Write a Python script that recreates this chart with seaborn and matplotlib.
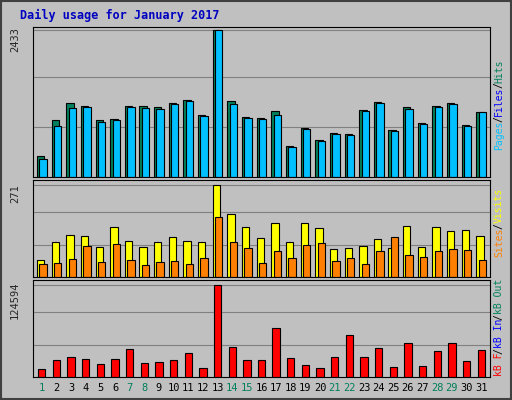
import matplotlib
matplotlib.use("Agg")
import matplotlib.pyplot as plt
import seaborn as sns
import numpy as np

days = list(range(1, 32))
hits = [340,940,1225,1175,940,955,1175,1175,1160,1225,1275,1025,2433,1260,990,975,1090,505,810,605,725,710,1110,1245,775,1160,890,1175,1225,860,1075]
files = [300,840,1140,1160,905,940,1160,1140,1125,1210,1260,1010,2433,1210,975,960,1025,490,795,590,710,695,1095,1225,760,1125,875,1160,1210,845,1075]
visits = [51,102,123,120,87,147,105,87,102,117,105,102,271,186,147,114,159,102,159,144,81,84,90,111,84,150,87,147,135,138,120]
sites = [39,42,54,90,45,96,51,36,45,48,39,57,177,102,84,42,75,57,93,99,48,57,39,75,117,66,60,75,81,78,51]
kbytes = [11000,23500,27700,24900,18000,24900,37400,19400,20800,23500,31800,12500,124594,40100,23500,23500,66400,26300,16600,12500,27700,56700,27700,38700,13800,45700,15200,34600,45700,22100,36000]
weekend = {1,7,8,14,15,21,22,28,29}

sns.set_style("white")
W, H = 512, 400
fig = plt.figure(figsize=(5.12, 4.0), dpi=100, facecolor="#c0c0c0")
fig.patches.append(plt.Rectangle((0.002, 0.002), 0.996, 0.996, transform=fig.transFigure,
                                 fill=False, edgecolor="#404040", lw=1.5))

def mk(y0, y1):
    ax = fig.add_axes([33/W, 1 - y1/H, (490-33)/W, (y1-y0)/H])
    ax.set_facecolor("#c0c0c0")
    for s in ax.spines.values():
        s.set_color("black")
    return ax

def draw(ax, vals, off, color, w):
    x = np.array(days) + off
    sns.barplot(x=x, y=vals, native_scale=True, width=w, color=color,
                edgecolor="black", linewidth=0.8, saturation=1, ax=ax)

ax1 = mk(27, 177)
top1 = 2433 / 0.98
ax1.set_ylim(0, top1)
for f in [1/3, 2/3, 0.98]:
    ax1.axhline(top1*f, color="#808080", lw=0.8, zorder=0)
draw(ax1, hits, -0.08, "#00805c", 0.5)
draw(ax1, files, 0.08, "#00c0ff", 0.5)

ax2 = mk(180, 277)
top2 = 271 / 0.95
ax2.set_ylim(0, top2)
for f in [1/3, 2/3, 0.95]:
    ax2.axhline(top2*f, color="#808080", lw=0.8, zorder=0)
draw(ax2, visits, -0.08, "#ffff00", 0.5)
draw(ax2, sites, 0.08, "#ff8000", 0.5)

ax3 = mk(280, 377)
top3 = 124594 / 0.95
ax3.set_ylim(0, top3)
for f in [1/3, 2/3, 0.95]:
    ax3.axhline(top3*f, color="#808080", lw=0.8, zorder=0)
draw(ax3, kbytes, 0, "#ff0000", 0.5)

for ax in (ax1, ax2, ax3):
    ax.set_xlim(0.4, 31.6)
    ax.set_xlabel(""); ax.set_ylabel("")
    ax.set_xticks([]); ax.set_yticks([])

mono = "DejaVu Sans Mono"
fig.text(20/W, 1-15/H, "Daily usage for January 2017", color="#0000c0",
         fontsize=8.5, fontweight="bold", family=mono, va="center")
for y, t in [(40, "2433"), (194, "271"), (300, "124594")]:
    fig.text(15/W, 1-y/H, t, rotation=90, fontsize=7.5, family=mono, va="center", ha="center")

for d in days:
    xf = (33 + (d - 0.4) / 31.2 * (490 - 33)) / W
    fig.text(xf, 1-388/H, str(d), color="#00805c" if d in weekend else "black",
             fontsize=7.5, family=mono, ha="center", va="center")

CW = 5.6
def rlabel(ybot, parts):
    y = ybot
    for t, c in parts:
        fig.text(499/W, 1-y/H, t, rotation=90, color=c, fontsize=7,
                 family=mono, ha="center", va="bottom")
        y -= len(t) * CW
rlabel(150, [("Pages", "#00c0ff"), ("/", "black"), ("Files", "#0000ff"), ("/", "black"), ("Hits", "#00805c")])
rlabel(257, [("Sites", "#ff8000"), ("/", "black"), ("Visits", "#ffff00")])
rlabel(376, [("kB F", "#ff0000"), ("/", "black"), ("kB In", "#0000ff"), ("/", "black"), ("kB Out", "#00805c")])

fig.savefig("out.png", dpi=100, facecolor=fig.get_facecolor())
